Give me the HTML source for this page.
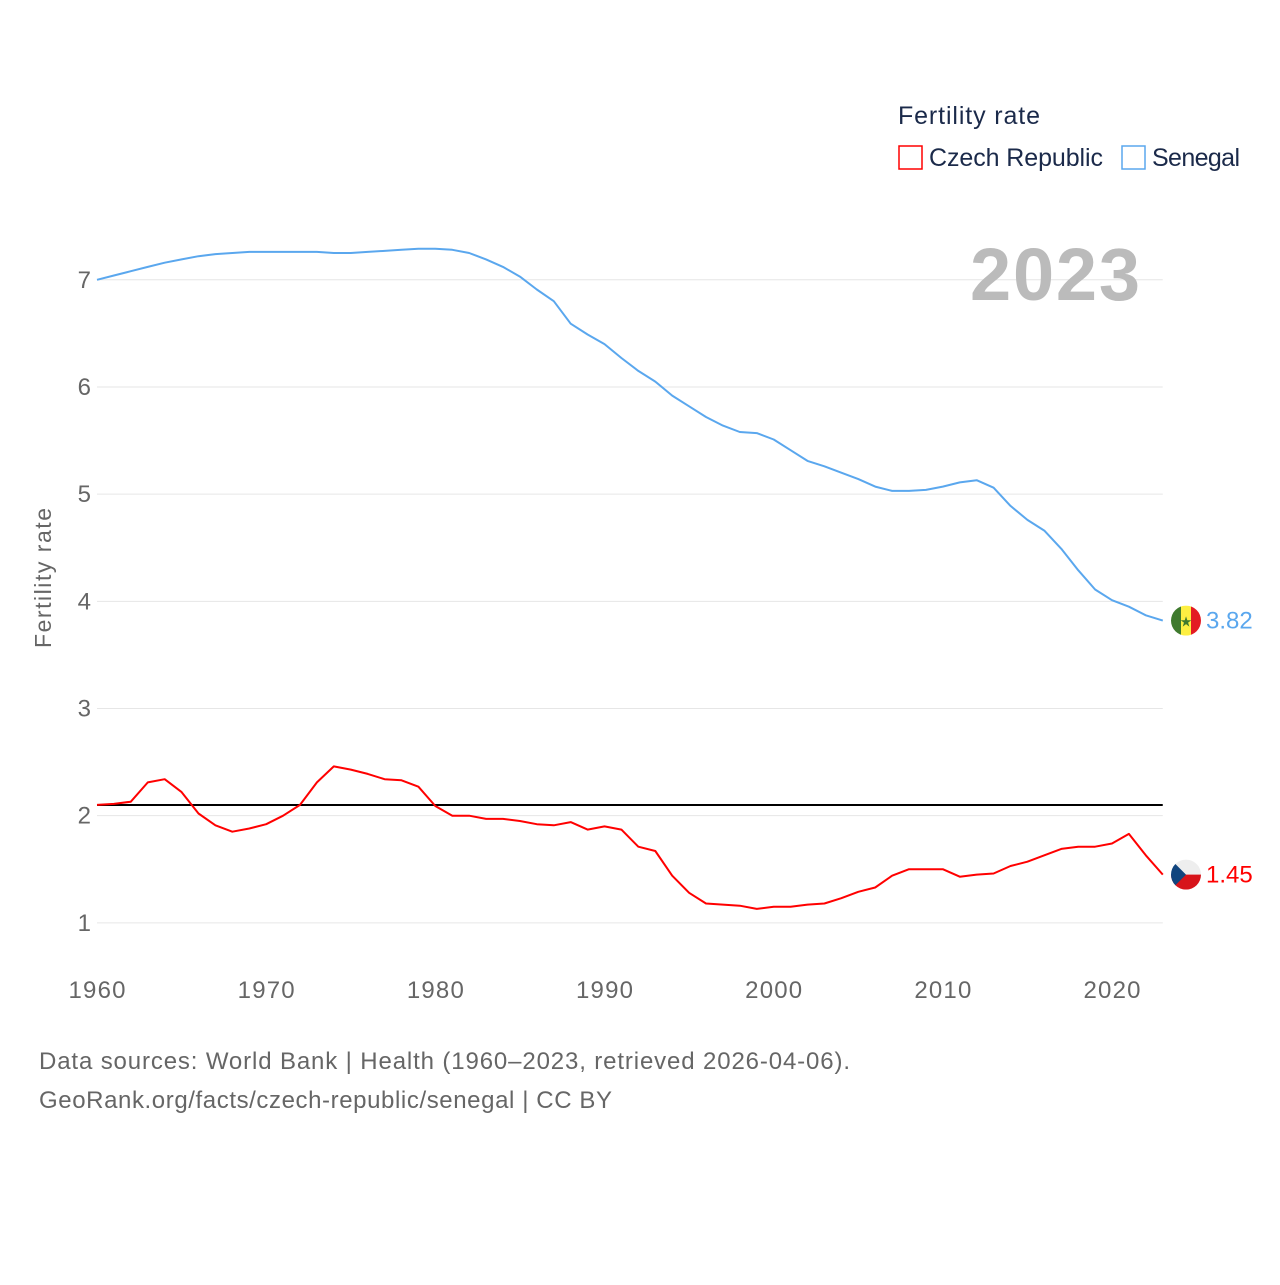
<!DOCTYPE html>
<html><head><meta charset="utf-8"><style>
body{margin:0;background:#fff;width:1280px;height:1280px;overflow:hidden;font-family:"Liberation Sans",sans-serif}
</style></head><body>
<svg id="chart" width="1280" height="1280" xmlns="http://www.w3.org/2000/svg" font-family="Liberation Sans, sans-serif">
<text x="898" y="124" font-size="25" fill="#1b2a4a" textLength="142">Fertility rate</text>
<g><rect x="899" y="146" width="23" height="23" fill="none" stroke="#f00" stroke-width="1.5"/><text x="929" y="166" font-size="25" fill="#1b2a4a" textLength="174">Czech Republic</text></g>
<g><rect x="1122" y="146" width="23" height="23" fill="none" stroke="#5aa7ee" stroke-width="1.5"/><text x="1152" y="166" font-size="25" fill="#1b2a4a" textLength="88">Senegal</text></g>
<text transform="translate(51,578) rotate(-90)" text-anchor="middle" font-size="23" fill="#666" textLength="140">Fertility rate</text>
<g id="grid"></g>
<text x="1140" y="300" text-anchor="end" font-size="74" font-weight="bold" fill="#bbb" textLength="170">2023</text>
<g id="marks"></g>
<text x="39" y="1069" font-size="24" fill="#666" textLength="811">Data sources: World Bank | Health (1960–2023, retrieved 2026-04-06).</text>
<text x="39" y="1108" font-size="24" fill="#666" textLength="573">GeoRank.org/facts/czech-republic/senegal | CC BY</text>
</svg>
<script>
const years = Array.from({length:64},(_,i)=>1960+i);
const czech = [2.10,2.11,2.13,2.31,2.34,2.22,2.02,1.91,1.85,1.88,1.92,2.00,2.10,2.31,2.46,2.43,2.39,2.34,2.33,2.27,2.09,2.00,2.00,1.97,1.97,1.95,1.92,1.91,1.94,1.87,1.90,1.87,1.71,1.67,1.44,1.28,1.18,1.17,1.16,1.13,1.15,1.15,1.17,1.18,1.23,1.29,1.33,1.44,1.50,1.50,1.50,1.43,1.45,1.46,1.53,1.57,1.63,1.69,1.71,1.71,1.74,1.83,1.63,1.45];
const senegal = [7.00,7.04,7.08,7.12,7.16,7.19,7.22,7.24,7.25,7.26,7.26,7.26,7.26,7.26,7.25,7.25,7.26,7.27,7.28,7.29,7.29,7.28,7.25,7.19,7.12,7.03,6.91,6.80,6.59,6.49,6.40,6.27,6.15,6.05,5.92,5.82,5.72,5.64,5.58,5.57,5.51,5.41,5.31,5.26,5.20,5.14,5.07,5.03,5.03,5.04,5.07,5.11,5.13,5.06,4.89,4.76,4.66,4.49,4.29,4.11,4.01,3.95,3.87,3.82];
const yTicks = [1,2,3,4,5,6,7];
const xTicks = [1960,1970,1980,1990,2000,2010,2020];
const replacement = 2.1;
const NS="http://www.w3.org/2000/svg";
const x = y => 97 + (y-1960)*(1112-97)/60;
const yv = v => 1030 - v*107.17;
const X1 = x(2023);
function mk(tag, attrs, parent){const e=document.createElementNS(NS,tag);for(const k in attrs)e.setAttribute(k,attrs[k]);parent.appendChild(e);return e;}
const grid=document.getElementById('grid'), marks=document.getElementById('marks');
yTicks.forEach(t=>{
  const l=mk('line',{x1:97,x2:X1,y1:yv(t),y2:yv(t),stroke:'#e6e6e6','stroke-width':1},grid);
  
  
  const tx=mk('text',{x:91,y:yv(t)+8,'text-anchor':'end','font-size':24,fill:'#666'},grid);
  tx.textContent=t;
  
  
});
xTicks.forEach(t=>{
  const tx=mk('text',{x:x(t),y:998,'text-anchor':'middle','font-size':24,fill:'#666',textLength:57},grid);
  tx.textContent=t;
  
  
});
const rl=mk('line',{x1:97,x2:X1,y1:yv(replacement),y2:yv(replacement),stroke:'#000','stroke-width':2},marks);


function series(vals,color,name){
  const p=mk('path',{d:vals.map((v,i)=>(i?'L':'M')+x(years[i]).toFixed(1)+','+yv(v).toFixed(1)).join(''),fill:'none',stroke:color,'stroke-width':2,'stroke-linejoin':'round'},marks);
  
  
}
series(senegal,'#5aa7ee','senegal-line');
series(czech,'#ff0000','czech-line');
const sy=yv(senegal[senegal.length-1]), cy=yv(czech[czech.length-1]);
const defs=mk('defs',{},marks);
const c1=mk('clipPath',{id:'cs'},defs);mk('circle',{cx:1186,cy:sy,r:15},c1);
const c2=mk('clipPath',{id:'cc'},defs);mk('circle',{cx:1186,cy:cy,r:15},c2);
const sf=mk('g',{'clip-path':'url(#cs)'},marks);


mk('rect',{x:1171,y:sy-15,width:10,height:30,fill:'#3f7a2e'},sf);
mk('rect',{x:1181,y:sy-15,width:10,height:30,fill:'#fdef42'},sf);
mk('rect',{x:1191,y:sy-15,width:10,height:30,fill:'#e31b23'},sf);
const st=mk('text',{x:1186,y:sy+6,'text-anchor':'middle','font-size':14,fill:'#3f7a2e'},sf);st.textContent='★';
const cf=mk('g',{'clip-path':'url(#cc)'},marks);


mk('rect',{x:1171,y:cy-15,width:30,height:15,fill:'#eeeeee'},cf);
mk('rect',{x:1171,y:cy,width:30,height:15,fill:'#d7141a'},cf);
mk('path',{d:`M1171,${cy-15}L1186,${cy}L1171,${cy+15}Z`,fill:'#11457e'},cf);
const sl=mk('text',{x:1206,y:sy+8,'font-size':24,fill:'#5aa7ee'},marks);sl.textContent=senegal[senegal.length-1].toFixed(2);


const cl=mk('text',{x:1206,y:cy+8,'font-size':24,fill:'#ff0000'},marks);cl.textContent=czech[czech.length-1].toFixed(2);


</script>
</body></html>
